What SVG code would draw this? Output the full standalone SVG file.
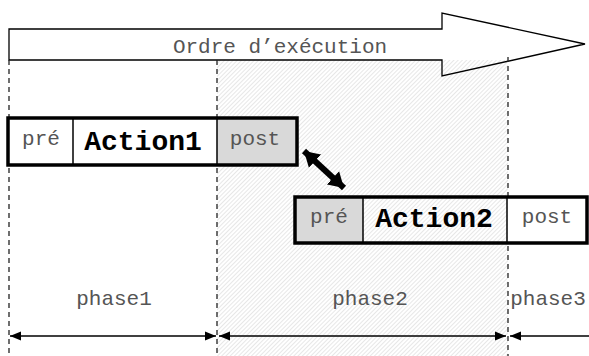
<svg xmlns="http://www.w3.org/2000/svg" width="589" height="356" viewBox="0 0 589 356">
  <style>
    .mono { font-family: "Liberation Mono", "Courier New", monospace; fill: #555; font-size: 21px; text-anchor: middle; }
    .bold { font-family: "Liberation Mono", "Courier New", monospace; fill: #000; font-size: 28px; font-weight: bold; text-anchor: middle; }
    .cell { stroke: #000; stroke-width: 1.5; }
    .frame { fill: none; stroke: #000; stroke-width: 3.5; }
    .dash { stroke: #222; stroke-width: 1.3; stroke-dasharray: 5 4; fill: none; }
    .dim { stroke: #000; stroke-width: 1.5; fill: none; }
  </style>
  <defs>
    <pattern id="hatch" patternUnits="userSpaceOnUse" width="3" height="3" patternTransform="rotate(45)">
      <line x1="0" y1="0" x2="0" y2="3" stroke="#cfcfcf" stroke-width="1"/>
    </pattern>
    <marker id="tip" markerUnits="userSpaceOnUse" markerWidth="12" markerHeight="10" refX="11" refY="5" orient="auto-start-reverse">
      <path d="M0,0.5 L11,5 L0,9.5 Z" fill="#000"/>
    </marker>
    <marker id="bigtip" markerUnits="userSpaceOnUse" markerWidth="16" markerHeight="20" refX="15" refY="10" orient="auto-start-reverse">
      <path d="M0,1 L15,10 L0,19 Z" fill="#000"/>
    </marker>
  </defs>

  <!-- background and hatched phase 2 band -->
  <rect x="0" y="0" width="589" height="356" fill="#fff"/>
  <rect id="phase2-band" x="217" y="60" width="291" height="296" fill="url(#hatch)"/>

  <!-- execution order arrow -->
  <g id="order">
    <path d="M9,60 L9,29 L442,29 L442,13 L585,44 L442,76 L442,60 Z" fill="none" stroke="#000" stroke-width="1.3"/>
    <text class="mono" x="280" y="53" font-size="22.5">Ordre d’exécution</text>
  </g>

  <!-- phase boundaries -->
  <g id="boundaries">
    <line class="dash" x1="9" y1="60" x2="9" y2="356"/>
    <line class="dash" x1="217" y1="60" x2="217" y2="356"/>
    <line class="dash" x1="508" y1="57" x2="508" y2="356"/>
  </g>

  <!-- action 1 -->
  <g id="action1">
    <rect x="8" y="118" width="65" height="47" fill="#fff"/>
    <rect x="73" y="118" width="144" height="47" fill="#fff"/>
    <rect x="217" y="118" width="80" height="47" fill="#d9d9d9"/>
    <line class="cell" x1="73" y1="118" x2="73" y2="165"/>
    <line class="cell" x1="217" y1="118" x2="217" y2="165"/>
    <rect class="frame" x="8" y="118" width="289" height="47"/>
    <text class="mono" x="41" y="145">pré</text>
    <text class="bold" x="143" y="150">Action1</text>
    <text class="mono" x="255" y="145">post</text>
  </g>

  <!-- action 2 -->
  <g id="action2">
    <rect x="295" y="197" width="68" height="46" fill="#d9d9d9"/>
    <rect x="507" y="197" width="80" height="46" fill="#fff"/>
    <line class="cell" x1="363" y1="197" x2="363" y2="243"/>
    <line class="cell" x1="507" y1="197" x2="507" y2="243"/>
    <rect class="frame" x="295" y="197" width="292" height="46"/>
    <text class="mono" x="329" y="223">pré</text>
    <text class="bold" x="434" y="227">Action2</text>
    <text class="mono" x="547" y="223">post</text>
  </g>

  <!-- phase labels -->
  <g id="phase1"><text class="mono" x="114" y="305">phase1</text></g>
  <g id="phase2"><text class="mono" x="370" y="305">phase2</text></g>
  <g id="phase3"><text class="mono" x="548" y="305">phase3</text></g>

  <!-- connectors -->
  <g id="connectors">
    <line x1="304" y1="151" x2="344" y2="188" stroke="#000" stroke-width="6" marker-start="url(#bigtip)" marker-end="url(#bigtip)"/>
    <line class="dim" x1="10" y1="336" x2="216" y2="336" marker-start="url(#tip)" marker-end="url(#tip)"/>
    <line class="dim" x1="219" y1="336" x2="506" y2="336" marker-start="url(#tip)" marker-end="url(#tip)"/>
    <line class="dim" x1="510" y1="336" x2="589" y2="336" marker-start="url(#tip)"/>
  </g>
</svg>
